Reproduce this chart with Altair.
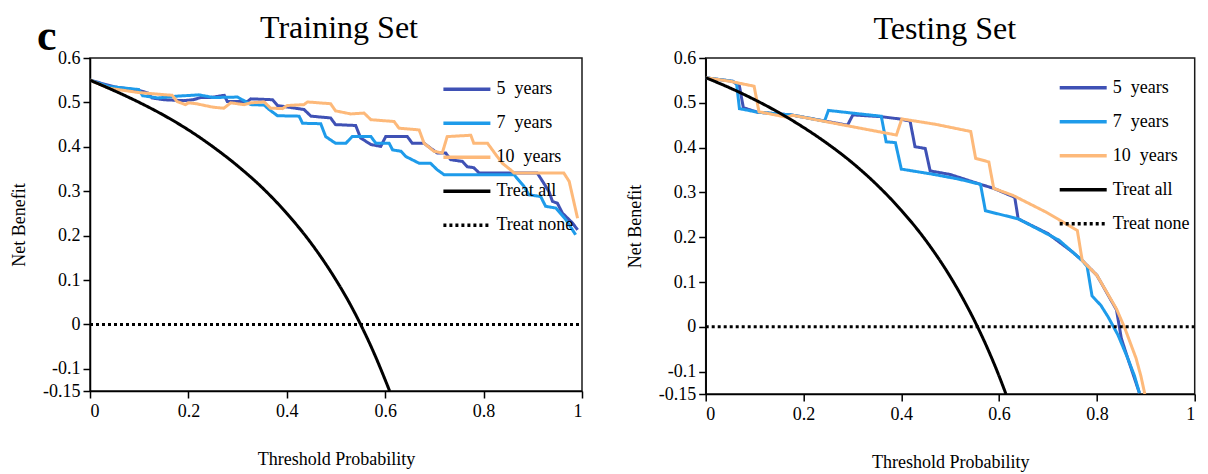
import altair as alt
import pandas as pd

# ---------------- text ----------------
PANEL_LETTER = "c"
TITLE_TRAIN = "Training Set"
TITLE_TEST = "Testing Set"
X_TITLE = "Threshold Probability"
Y_TITLE = "Net Benefit"
SERIES = ["5\u00a0\u00a0years", "7\u00a0\u00a0years", "10\u00a0\u00a0years", "Treat all", "Treat none"]
COLORS = ["#3F51B5", "#1E9BEA", "#FDB97A", "#000000", "#000000"]
DASHES = [[1, 0], [1, 0], [1, 0], [1, 0], [3, 3]]
X_TICKS = [0, 0.2, 0.4, 0.6, 0.8, 1]
Y_TICKS = [0.6, 0.5, 0.4, 0.3, 0.2, 0.1, 0, -0.1, -0.15]

# ---------------- Training set ----------------
TRAIN_5Y_T = [0, 0.05, 0.10, 0.118, 0.126, 0.15, 0.19, 0.21, 0.225, 0.245, 0.273, 0.279, 0.32, 0.327,
              0.371, 0.381, 0.435, 0.449, 0.489, 0.499, 0.540, 0.550, 0.571, 0.591, 0.601, 0.645, 0.655,
              0.679, 0.692, 0.706, 0.723, 0.733, 0.757, 0.767, 0.780, 0.791, 0.909, 0.920, 0.933, 0.940,
              0.950, 0.960, 0.981, 0.991]
TRAIN_5Y_NB = [0.550, 0.535, 0.527, 0.521, 0.510, 0.506, 0.504, 0.506, 0.511, 0.511, 0.516, 0.502, 0.502,
               0.508, 0.506, 0.493, 0.484, 0.469, 0.465, 0.450, 0.448, 0.420, 0.405, 0.401, 0.423, 0.423,
               0.408, 0.408, 0.397, 0.386, 0.386, 0.371, 0.367, 0.355, 0.353, 0.341, 0.341, 0.322, 0.299,
               0.277, 0.273, 0.251, 0.228, 0.213]

TRAIN_7Y_T = [0, 0.038, 0.099, 0.107, 0.138, 0.177, 0.221, 0.251, 0.300, 0.327, 0.354, 0.364, 0.381,
              0.425, 0.432, 0.469, 0.479, 0.499, 0.520, 0.533, 0.571, 0.581, 0.608, 0.615, 0.632, 0.642,
              0.669, 0.692, 0.706, 0.720, 0.862, 0.882, 0.892, 0.916, 0.926, 0.947, 0.967, 0.987]
TRAIN_7Y_NB = [0.550, 0.536, 0.529, 0.515, 0.510, 0.514, 0.517, 0.511, 0.512, 0.495, 0.494, 0.484, 0.470,
               0.469, 0.453, 0.452, 0.423, 0.408, 0.408, 0.423, 0.423, 0.408, 0.408, 0.393, 0.390, 0.378,
               0.363, 0.363, 0.348, 0.337, 0.337, 0.311, 0.292, 0.288, 0.266, 0.262, 0.236, 0.202]

TRAIN_10Y_T = [0, 0.038, 0.10, 0.167, 0.177, 0.194, 0.20, 0.216, 0.251, 0.272, 0.286, 0.313, 0.327, 0.354,
               0.367, 0.391, 0.401, 0.435, 0.442, 0.489, 0.499, 0.530, 0.557, 0.571, 0.618, 0.628, 0.669,
               0.679, 0.699, 0.716, 0.726, 0.774, 0.780, 0.808, 0.825, 0.838, 0.855, 0.862, 0.963, 0.974,
               0.991]
TRAIN_10Y_NB = [0.550, 0.532, 0.522, 0.516, 0.502, 0.495, 0.499, 0.497, 0.489, 0.487, 0.499, 0.495, 0.499,
                0.501, 0.487, 0.486, 0.493, 0.495, 0.501, 0.497, 0.481, 0.474, 0.476, 0.461, 0.457, 0.442,
                0.438, 0.408, 0.390, 0.386, 0.423, 0.426, 0.408, 0.408, 0.382, 0.363, 0.348, 0.341, 0.341,
                0.322, 0.239]

TRAIN_ALL_T = [0, 0.05, 0.1, 0.15, 0.2, 0.25, 0.3, 0.35, 0.4, 0.45, 0.5, 0.525, 0.55, 0.575, 0.6, 0.609]
TRAIN_ALL_NB = [0.55, 0.526, 0.500, 0.471, 0.438, 0.400, 0.357, 0.308, 0.250, 0.182, 0.100, 0.053, 0.0,
                -0.059, -0.125, -0.15]

# ---------------- Testing set ----------------
TEST_5Y_T = [0, 0.055, 0.069, 0.077, 0.106, 0.175, 0.29, 0.301, 0.359, 0.396, 0.418, 0.428, 0.449, 0.459,
             0.50, 0.562, 0.589, 0.632, 0.639, 0.70, 0.75, 0.77, 0.80, 0.84, 0.85, 0.863, 0.887]
TEST_5Y_NB = [0.556, 0.548, 0.537, 0.489, 0.479, 0.473, 0.450, 0.473, 0.469, 0.464, 0.459, 0.402, 0.398,
              0.348, 0.340, 0.318, 0.309, 0.289, 0.241, 0.208, 0.167, 0.148, 0.115, 0.038, -0.026, -0.070,
              -0.148]

TEST_7Y_T = [0, 0.055, 0.063, 0.069, 0.106, 0.175, 0.243, 0.251, 0.30, 0.359, 0.369, 0.388, 0.400, 0.462,
             0.516, 0.562, 0.572, 0.639, 0.685, 0.723, 0.75, 0.770, 0.78, 0.79, 0.808, 0.823, 0.843, 0.863,
             0.877, 0.887]
TEST_7Y_NB = [0.556, 0.548, 0.544, 0.487, 0.479, 0.473, 0.459, 0.483, 0.477, 0.470, 0.413, 0.411, 0.352,
              0.341, 0.330, 0.318, 0.259, 0.241, 0.215, 0.193, 0.167, 0.148, 0.135, 0.069, 0.048, 0.022,
              -0.018, -0.070, -0.110, -0.148]

TEST_10Y_T = [0, 0.05, 0.099, 0.109, 0.165, 0.178, 0.39, 0.401, 0.47, 0.542, 0.552, 0.579, 0.589, 0.629,
              0.696, 0.76, 0.77, 0.80, 0.816, 0.84, 0.856, 0.88, 0.89, 0.898]
TEST_10Y_NB = [0.556, 0.548, 0.537, 0.480, 0.468, 0.472, 0.428, 0.464, 0.452, 0.436, 0.376, 0.368, 0.309,
               0.293, 0.256, 0.215, 0.148, 0.115, 0.085, 0.040, 0.0, -0.070, -0.110, -0.15]

TEST_ALL_T = [0, 0.05, 0.1, 0.15, 0.2, 0.25, 0.3, 0.35, 0.4, 0.45, 0.5, 0.525, 0.55, 0.575, 0.6, 0.614]
TEST_ALL_NB = [0.556, 0.533, 0.507, 0.478, 0.445, 0.408, 0.366, 0.317, 0.260, 0.193, 0.112, 0.065, 0.013,
               -0.045, -0.110, -0.15]

NONE_T = [0, 1]
NONE_NB = [0, 0]

FONT = "Liberation Serif"


def frame(name, ts, nbs):
    return pd.DataFrame({"t": ts, "nb": nbs, "series": name, "i": list(range(len(ts)))})


def panel(models, all_t, all_nb, title, title_x, title_y, width, height, legend_x, legend_y, letter=None):
    x = alt.X("t:Q", scale=alt.Scale(domain=[0, 1], nice=False, zero=False),
              axis=alt.Axis(values=X_TICKS, labelExpr="format(datum.value, '.1~f')", title=X_TITLE,
                            titlePadding=30, tickSize=7, labelPadding=4, grid=False))
    y = alt.Y("nb:Q", scale=alt.Scale(domain=[-0.15, 0.6], nice=False, zero=False),
              axis=alt.Axis(values=Y_TICKS,
                            labelExpr="datum.value < 0 ? '-' + format(-datum.value, '.2~f') : format(datum.value, '.2~f')",
                            title=Y_TITLE, titlePadding=14, tickSize=7, labelPadding=3, grid=False))
    leg = alt.Legend(orient="none", legendX=legend_x, legendY=legend_y, title=None, symbolType="stroke",
                     symbolSize=2209, symbolStrokeWidth=3.5, clipHeight=33.5, rowPadding=0, padding=0,
                     labelFont=FONT, labelFontSize=18, labelColor="black", labelOffset=4, labelLimit=300)
    color = alt.Color("series:N", scale=alt.Scale(domain=SERIES, range=COLORS), legend=leg)
    dash = alt.StrokeDash("series:N", scale=alt.Scale(domain=SERIES, range=DASHES), legend=leg)

    layers = []
    for name, ts, nbs in models:
        layers.append(alt.Chart(frame(name, ts, nbs)).mark_line(strokeWidth=3, clip=True).encode(
            x=x, y=y, color=color, strokeDash=dash, order="i:Q"))
    layers.append(alt.Chart(frame(SERIES[3], all_t, all_nb)).mark_line(
        strokeWidth=3, clip=True, interpolate="monotone").encode(x=x, y=y, color=color, strokeDash=dash,
                                                                 order="i:Q"))
    layers.append(alt.Chart(frame(SERIES[4], NONE_T, NONE_NB)).mark_line(strokeWidth=3, clip=True).encode(
        x=x, y=y, color=color, strokeDash=dash, order="i:Q"))
    layers.append(alt.Chart(pd.DataFrame({"label": [title]})).mark_text(
        font=FONT, fontSize=32, align="center", baseline="alphabetic", color="black").encode(
        text="label:N", x=alt.value(title_x), y=alt.value(title_y)))
    if letter:
        layers.append(alt.Chart(pd.DataFrame({"label": [letter]})).mark_text(
            font=FONT, fontSize=44, fontWeight="bold", align="left", baseline="alphabetic",
            color="black").encode(text="label:N", x=alt.value(-53), y=alt.value(-8)))
    return alt.layer(*layers).properties(width=width, height=height)


left = panel([(SERIES[0], TRAIN_5Y_T, TRAIN_5Y_NB), (SERIES[1], TRAIN_7Y_T, TRAIN_7Y_NB),
              (SERIES[2], TRAIN_10Y_T, TRAIN_10Y_NB)],
             TRAIN_ALL_T, TRAIN_ALL_NB, TITLE_TRAIN, 249, -20, 492, 333, 351.4, 14.5, letter=PANEL_LETTER)
right = panel([(SERIES[0], TEST_5Y_T, TEST_5Y_NB), (SERIES[1], TEST_7Y_T, TEST_7Y_NB),
               (SERIES[2], TEST_10Y_T, TEST_10Y_NB)],
              TEST_ALL_T, TEST_ALL_NB, TITLE_TEST, 239, -19, 489, 336, 352, 13)

chart = alt.hconcat(left, right, spacing=123.7, bounds="flush").resolve_scale(
    color="independent", strokeDash="independent").resolve_legend(
    color="independent", strokeDash="independent").configure_view(
    stroke="#1a1a1a", strokeWidth=1.5).configure_axis(
    labelFont=FONT, labelFontSize=18, labelColor="black", titleFont=FONT, titleFontSize=18,
    titleFontWeight="normal", titleColor="black", domainColor="black", tickColor="black",
    domainWidth=1.5, tickWidth=1.5).properties(
    padding={"left": 1, "top": 3, "right": 0, "bottom": 2}, background="white")

chart.save("out.html", embed_options={"renderer": "svg", "actions": False})
